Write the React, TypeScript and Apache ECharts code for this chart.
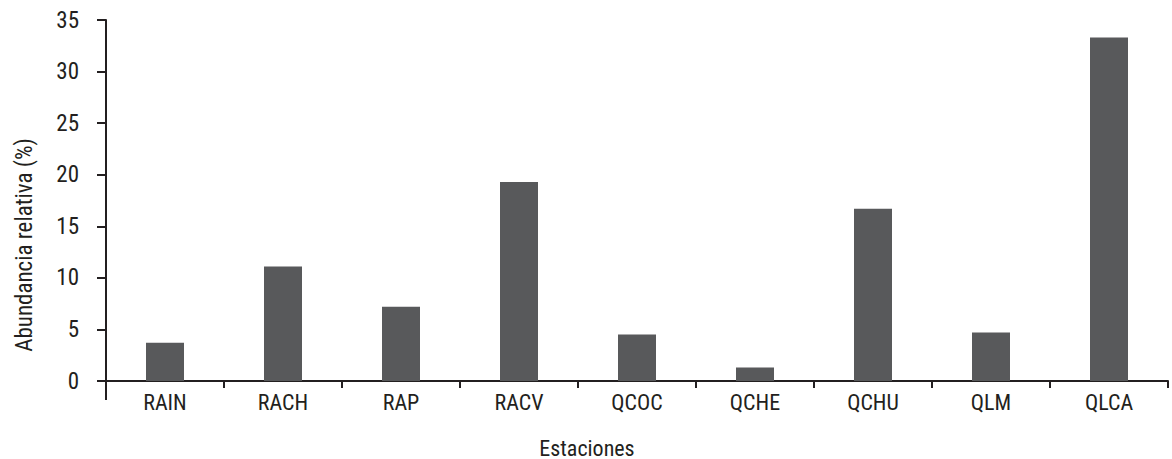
import React, { useEffect, useRef } from "react";
import * as echarts from "echarts";

const categories = ["RAIN", "RACH", "RAP", "RACV", "QCOC", "QCHE", "QCHU", "QLM", "QLCA"];
const abundance = [3.7, 11.1, 7.2, 19.3, 4.5, 1.3, 16.7, 4.7, 33.3];
const yTicks = { min: 0, max: 35, interval: 5 };
const yTitle = "Abundancia relativa (%)";
const xTitle = "Estaciones";

const FONT = "'Liberation Sans Narrow', 'Roboto Condensed', 'Liberation Sans', Arial, sans-serif";
const INK = "#231f20";

export default function App() {
  const ref = useRef<HTMLDivElement>(null);
  useEffect(() => {
    if (!ref.current) return;
    const chart = echarts.init(ref.current, undefined, { renderer: "svg" });
    chart.setOption({
      animation: false,
      backgroundColor: "#ffffff",
      grid: { left: 106, right: 4, top: 20, bottom: 78 },
      xAxis: {
        type: "category",
        data: categories,
        boundaryGap: true,
        axisLine: { show: true, lineStyle: { color: INK, width: 2 } },
        axisTick: { show: true, length: 7, lineStyle: { color: INK, width: 2 } },
        axisLabel: { color: INK, fontFamily: FONT, fontSize: 22, margin: 10 },
        splitLine: { show: false },
      },
      yAxis: {
        type: "value",
        min: yTicks.min,
        max: yTicks.max,
        interval: yTicks.interval,
        axisLine: { show: true, lineStyle: { color: INK, width: 2 } },
        axisTick: { show: true, length: 9, lineStyle: { color: INK, width: 2 } },
        axisLabel: { color: INK, fontFamily: FONT, fontSize: 23, margin: 27 },
        splitLine: { show: false },
      },
      graphic: [
        {
          type: "line",
          shape: { x1: 106, y1: 381, x2: 106, y2: 400 },
          style: { stroke: INK, lineWidth: 2 },
        },
        {
          type: "text",
          x: 24,
          y: 245,
          rotation: Math.PI / 2,
          style: {
            text: yTitle,
            fill: INK,
            font: `23px ${FONT}`,
            align: "center",
            verticalAlign: "middle",
          },
        },
        {
          type: "text",
          x: 587,
          y: 448,
          style: {
            text: xTitle,
            fill: INK,
            font: `22px ${FONT}`,
            align: "center",
            verticalAlign: "middle",
          },
        },
      ],
      series: [
        {
          type: "bar",
          data: abundance,
          barWidth: 38,
          itemStyle: { color: "#58595b" },
        },
      ],
    });
    return () => chart.dispose();
  }, []);
  return (
    <div
      ref={ref}
      style={{ position: "fixed", left: 0, top: 0, width: 1172, height: 459 }}
    />
  );
}
